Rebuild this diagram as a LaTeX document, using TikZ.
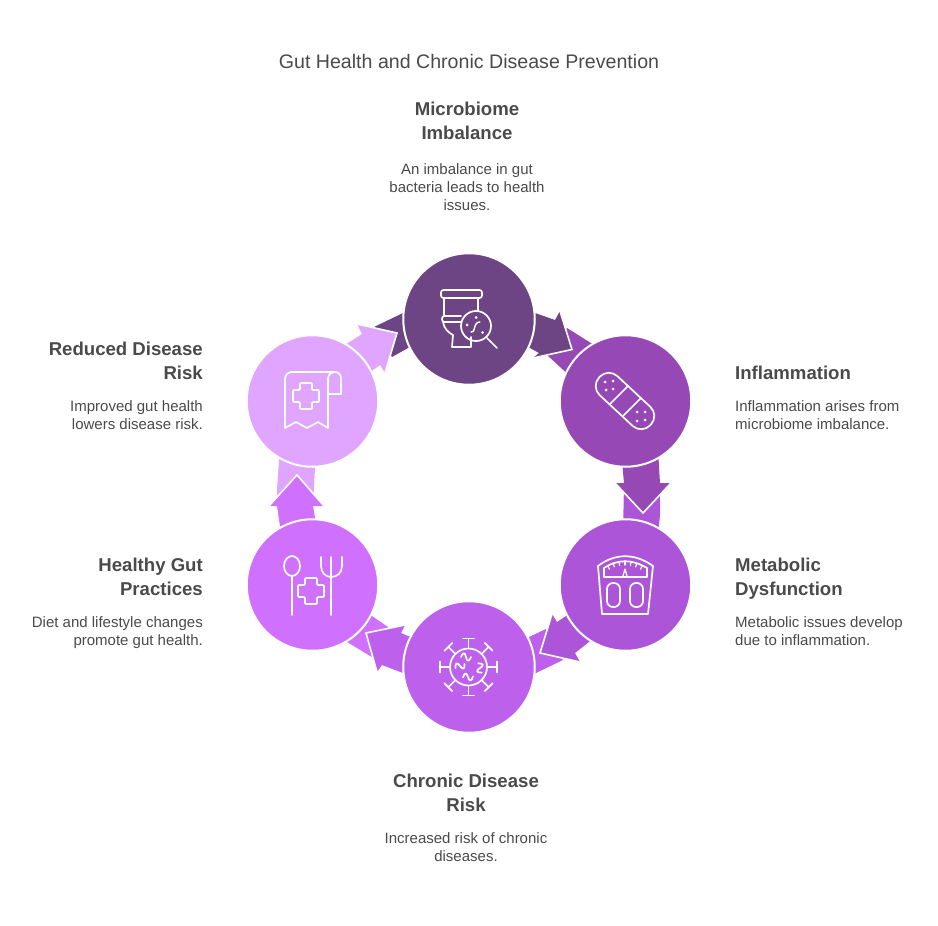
\documentclass[tikz,border=0pt]{standalone}
\usepackage{fontspec}
\setmainfont{Liberation Sans}
\definecolor{cA}{HTML}{6D4584}
\definecolor{cB}{HTML}{9649B5}
\definecolor{cC}{HTML}{AD55D9}
\definecolor{cD}{HTML}{BD61ED}
\definecolor{cE}{HTML}{D070FF}
\definecolor{cF}{HTML}{E0A6FF}
\definecolor{txt}{HTML}{4A4A4A}
\tikzset{
  disc/.style={circle,draw=white,line width=2pt,minimum size=131.5pt,inner sep=0pt,outer sep=0pt},
  edgew/.style={draw=white,line width=1.6pt,line join=miter},
  icon/.style={draw=white,line width=1.7pt,line join=round,line cap=round},
  dotw/.style={fill=white},
  ttl/.style={text=txt,font=\fontsize{19.6}{24}\selectfont,inner sep=0pt},
  hd/.style={text=txt,font=\fontsize{18.6}{24}\selectfont\bfseries,inner sep=0pt,anchor=north},
  ds/.style={text=txt,font=\fontsize{15}{18}\selectfont,inner sep=0pt,anchor=north},
}
\begin{document}
\begin{tikzpicture}[x=1pt,y=-1pt]
\useasboundingbox (0,0) rectangle (938,926);
% tails
\fill[cB] (567,328) -- (610,355) -- (585,390) -- (547,355) -- cycle;
\fill[cC] (624,483) -- (623,535) -- (658,535) -- (660,515) -- (660,483) -- cycle;
\fill[cD] (546,629) -- (529,637) -- (515,640) -- (515,680) -- (536,673) -- (563,660) -- cycle;
\fill[cE] (388,627) -- (372,616) -- (335,600) -- (320,625) -- (347,642) -- (372,657) -- cycle;
\fill[cF] (277,506) -- (277,490) -- (280,445) -- (316,445) -- (315,468) -- (313,506) -- cycle;
\fill[cA] (374,327) -- (403,313) -- (425,305) -- (425,340) -- (408,348) -- (392,357) -- cycle;
% heads
\fill[cA] (515,303) -- (535,313) -- (555,320) -- (560,311) -- (573,350) -- (533,358) -- (539,353) -- (530,348) -- (510,335) -- cycle;
\draw[edgew] (560,311) -- (572,349.5) -- (533,358);
\fill[cB] (621,450) -- (624,483) -- (615,483) -- (643,513) -- (671,483) -- (660,483) -- (658,450) -- cycle;
\draw[edgew] (615,483) -- (643,513) -- (671,483);
\fill[cC] (585,610) -- (566,616) -- (557,622) -- (552,614) -- (540,653) -- (580,662) -- (575,653) -- (589,642) -- (605,625) -- cycle;
\draw[edgew] (552,614) -- (540,653) -- (580,662);
\fill[cD] (425,640) -- (408,636) -- (401,633) -- (405,625) -- (366,633) -- (377,672) -- (382,665) -- (403,673) -- (425,680) -- cycle;
\draw[edgew] (405,625) -- (366,633) -- (377,672);
\fill[cE] (282,540) -- (280,526) -- (277,506) -- (269,506) -- (297,475) -- (324,506) -- (313,506) -- (315,518) -- (316,540) -- cycle;
\draw[edgew] (269,506) -- (297,475) -- (324,506);
\fill[cF] (335,355) -- (348,343) -- (362,334) -- (357,324) -- (397,333) -- (385,373) -- (380,365) -- (373,370) -- (360,385) -- cycle;
\draw[edgew] (357,324) -- (397,333) -- (385,373);
% discs
\node[disc,fill=cA] (n1) at (469,319) {};
\node[disc,fill=cB] (n2) at (625.5,401) {};
\node[disc,fill=cC] (n3) at (625.5,585) {};
\node[disc,fill=cD] (n4) at (469,667) {};
\node[disc,fill=cE] (n5) at (312.5,585) {};
\node[disc,fill=cF] (n6) at (312.5,401) {};
% icon 1: toilet
\draw[icon,rounded corners=2.5pt] (441,290) rectangle (482,298);
\draw[icon] (444,298) -- (444,316) (478,298) -- (478,311);
\draw[icon,rounded corners=2.5pt] (461,316) -- (442,316) -- (442,322) -- (461,322);
\draw[icon] (443,322) .. controls (444,329) and (449,333) .. (453,335) -- (452,347) -- (471,347) -- (471,337);
\draw[icon] (476,326) circle[radius=15];
\draw[icon] (487,338) -- (497,348);
\draw[icon,line width=1.4pt] (471,332) .. controls (475,333) and (474,326) .. (476,324) .. controls (477,322) and (479,322) .. (480,322);
\fill[dotw] (476,317.5) circle[radius=1.5] (467,325) circle[radius=1.5] (482.5,332.5) circle[radius=1.5];
% icon 2: bandage
\draw[icon,rounded corners=12.5pt,rotate around={-43:(625,401)}] (590,388) rectangle (660,414);
\draw[icon] (610,404) -- (628,386) (623,416) -- (641,398);
\fill[dotw] (605,382) circle[radius=1.5] (613,381) circle[radius=1.5] (606,390) circle[radius=1.5] (613,389) circle[radius=1.5]
 (637,412) circle[radius=1.5] (645,412) circle[radius=1.5] (637,421) circle[radius=1.5] (645,420) circle[radius=1.5];
% icon 3: scale
\draw[icon] (598,566) .. controls (615,553) and (635,553) .. (653,566) -- (648,614) -- (602,614) -- cycle;
\draw[icon] (604,568) .. controls (618,559) and (632,559) .. (647,568) -- (647,577) -- (604,577) -- cycle;
\foreach \a in {-30,-20,-10,0,10,20,30}{\draw[icon,line width=1.2pt,rotate around={\a:(625,596)}] (625,561) -- (625,565);}
\draw[icon,line width=1.2pt] (623,576) -- (625,569) -- (627,576);
\draw[icon,rounded corners=6pt] (607,583) rectangle (620,607);
\draw[icon,rounded corners=6pt] (630,583) rectangle (643,607);
% icon 4: virus
\draw[icon] (468.5,667) circle[radius=18.5];
\foreach \a in {0,45,...,315}{\draw[icon,rotate around={\a:(468.5,667)}] (468.5,648.5) -- (468.5,638.5) (463,638.5) -- (474,638.5);}
\draw[icon,shift={(466,657)}] (-5,0) .. controls (-3,-5) and (-1,-5) .. (0,0) .. controls (1,5) and (3,5) .. (5,0);
\draw[icon,shift={(460,666)},rotate=25] (-5,0) .. controls (-3,-5) and (-1,-5) .. (0,0) .. controls (1,5) and (3,5) .. (5,0);
\draw[icon,shift={(480,668)},rotate=110] (-5,0) .. controls (-3,-5) and (-1,-5) .. (0,0) .. controls (1,5) and (3,5) .. (5,0);
\draw[icon,shift={(468,677)},rotate=5] (-5,0) .. controls (-3,-5) and (-1,-5) .. (0,0) .. controls (1,5) and (3,5) .. (5,0);
% icon 5: spoon, fork, cross
\draw[icon] (292,566) ellipse[x radius=8,y radius=10];
\draw[icon] (292,576) -- (292,615);
\draw[icon] (331,557) -- (331,615);
\draw[icon] (321,557) -- (321,566) .. controls (321,573) and (326,577) .. (331,577) .. controls (337,577) and (342,573) .. (342,566) -- (342,557);
\draw[icon,rounded corners=1pt] (305,578) -- (317,578) -- (317,585) -- (324,585) -- (324,597) -- (317,597) -- (317,604) -- (305,604) -- (305,597) -- (298,597) -- (298,585) -- (305,585) -- cycle;
% icon 6: paper and cross
\draw[icon] (285,428) -- (285,379) .. controls (285,375) and (288,372) .. (292,372) -- (335,372) .. controls (339,372) and (341,375) .. (341,379) -- (341,394) -- (328,394) -- (328,428) -- (318,422) -- (307,428) -- (296,422) -- cycle;
\draw[icon] (328,394) -- (328,379) .. controls (328,375) and (331,372) .. (335,372);
\draw[icon,rounded corners=1pt] (300,383) -- (312,383) -- (312,390) -- (319,390) -- (319,402) -- (312,402) -- (312,409) -- (300,409) -- (300,402) -- (293,402) -- (293,390) -- (300,390) -- cycle;
% texts
\node[ttl] (title) at (469,61) {Gut Health and Chronic Disease Prevention};
\node[hd,align=center] (h1) at (467,101.5) {Microbiome\\Imbalance};
\node[ds,align=center] (d1) at (467,163) {An imbalance in gut\\bacteria leads to health\\issues.};
\node[hd,align=left,anchor=north west] (h2) at (735,365.5) {Inflammation};
\node[ds,align=left,anchor=north west] (d2) at (735,400) {Inflammation arises from\\microbiome imbalance.};
\node[hd,align=left,anchor=north west] (h3) at (735,557.5) {Metabolic\\Dysfunction};
\node[ds,align=left,anchor=north west] (d3) at (735,616) {Metabolic issues develop\\due to inflammation.};
\node[hd,align=center] (h4) at (466,773.5) {Chronic Disease\\Risk};
\node[ds,align=center] (d4) at (466,832) {Increased risk of chronic\\diseases.};
\node[hd,align=right,anchor=north east] (h5) at (203,557.5) {Healthy Gut\\Practices};
\node[ds,align=right,anchor=north east] (d5) at (203,616) {Diet and lifestyle changes\\promote gut health.};
\node[hd,align=right,anchor=north east] (h6) at (203,341.5) {Reduced Disease\\Risk};
\node[ds,align=right,anchor=north east] (d6) at (203,400) {Improved gut health\\lowers disease risk.};
\end{tikzpicture}
\end{document}
